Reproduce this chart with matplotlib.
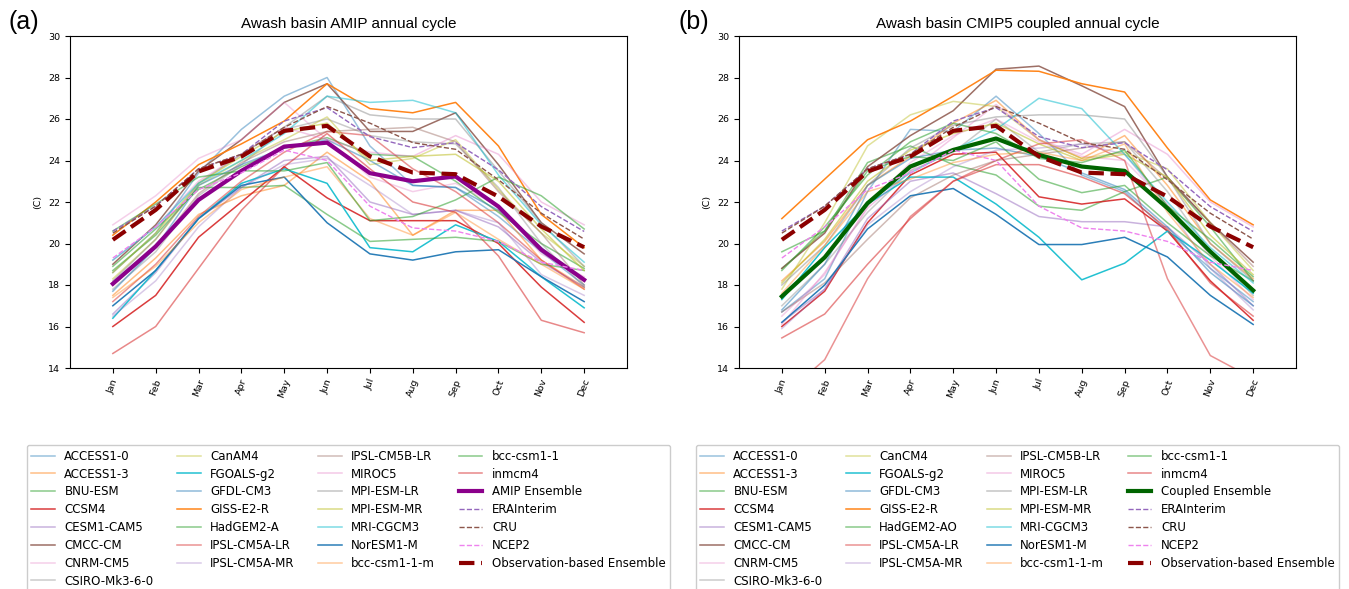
import matplotlib.pyplot as plt

months = ["Jan", "Feb", "Mar", "Apr", "May", "Jun", "Jul", "Aug", "Sep", "Oct", "Nov", "Dec"]

amip_names = ["ACCESS1-0", "ACCESS1-3", "BNU-ESM", "CCSM4", "CESM1-CAM5", "CMCC-CM", "CNRM-CM5",
              "CSIRO-Mk3-6-0", "CanAM4", "FGOALS-g2", "GFDL-CM3", "GISS-E2-R", "HadGEM2-A",
              "IPSL-CM5A-LR", "IPSL-CM5A-MR", "IPSL-CM5B-LR", "MIROC5", "MPI-ESM-LR", "MPI-ESM-MR",
              "MRI-CGCM3", "NorESM1-M", "bcc-csm1-1-m", "bcc-csm1-1", "inmcm4"]
cmip_names = ["ACCESS1-0", "ACCESS1-3", "BNU-ESM", "CCSM4", "CESM1-CAM5", "CMCC-CM", "CNRM-CM5",
              "CSIRO-Mk3-6-0", "CanCM4", "FGOALS-g2", "GFDL-CM3", "GISS-E2-R", "HadGEM2-AO",
              "IPSL-CM5A-LR", "IPSL-CM5A-MR", "IPSL-CM5B-LR", "MIROC5", "MPI-ESM-LR", "MPI-ESM-MR",
              "MRI-CGCM3", "NorESM1-M", "bcc-csm1-1-m", "bcc-csm1-1", "inmcm4"]

amip_access10 = [18.6, 20.5, 23.4, 25.5, 27.1, 28.0, 24.7, 22.8, 22.7, 21.3, 19.6, 18.0]
amip_access13 = [17.5, 19.3, 21.4, 22.3, 22.8, 24.4, 23.0, 20.4, 21.6, 21.6, 19.2, 17.9]
amip_bnu = [18.9, 20.7, 22.6, 23.7, 24.6, 25.1, 24.3, 24.2, 23.0, 21.5, 20.0, 18.8]
amip_ccsm4 = [16.0, 17.5, 20.3, 22.0, 23.7, 22.2, 21.1, 21.1, 21.1, 20.0, 17.9, 16.2]
amip_cesm = [16.6, 18.6, 21.2, 22.7, 24.0, 24.2, 22.0, 21.4, 21.6, 20.8, 19.1, 17.9]
amip_cmcc = [19.0, 20.9, 23.5, 25.0, 26.8, 27.7, 25.4, 25.4, 26.3, 23.8, 21.0, 19.5]
amip_cnrm = [20.9, 22.3, 24.1, 25.0, 26.8, 25.0, 23.2, 22.5, 22.9, 21.8, 19.5, 18.4]
amip_csiro = [17.8, 19.6, 22.3, 23.8, 25.5, 26.0, 25.2, 24.9, 24.8, 22.7, 20.0, 17.9]
amip_canam4 = [18.3, 20.2, 22.8, 24.0, 25.0, 26.1, 23.8, 24.1, 25.0, 22.6, 20.5, 18.9]
amip_fgoals = [16.4, 18.7, 21.2, 22.9, 23.6, 22.9, 19.8, 19.6, 20.9, 20.1, 18.4, 16.9]
amip_gfdl = [17.7, 19.8, 22.8, 23.8, 24.6, 25.0, 24.0, 22.8, 22.7, 21.6, 19.8, 18.2]
amip_giss = [20.4, 22.0, 23.8, 24.8, 25.9, 27.7, 26.5, 26.3, 26.8, 24.7, 21.4, 19.8]
amip_hadgem = [18.7, 20.4, 22.7, 22.7, 22.8, 21.4, 20.1, 20.2, 20.3, 20.1, 19.0, 18.7]
amip_ipsl_alr = [17.2, 19.0, 21.3, 23.0, 24.4, 25.4, 25.2, 23.6, 22.5, 21.0, 19.2, 17.8]
amip_ipsl_amr = [16.5, 18.2, 20.8, 22.7, 23.8, 24.1, 22.8, 21.4, 21.6, 21.0, 18.5, 17.5]
amip_ipsl_blr = [18.0, 19.8, 22.4, 23.9, 24.9, 25.4, 25.5, 25.6, 24.9, 22.5, 20.5, 18.0]
amip_miroc5 = [19.2, 20.8, 23.0, 24.3, 25.6, 25.0, 24.4, 24.2, 25.2, 24.3, 22.0, 20.9]
amip_mpi_lr = [18.2, 20.2, 22.9, 24.3, 25.6, 27.1, 26.2, 26.0, 26.0, 23.5, 21.0, 18.9]
amip_mpi_mr = [18.6, 20.5, 22.9, 24.2, 25.4, 25.8, 24.0, 24.2, 24.3, 23.0, 20.7, 18.7]
amip_mri = [19.2, 20.8, 22.9, 24.0, 25.3, 27.1, 26.8, 26.9, 26.3, 23.3, 20.9, 19.1]
amip_noresm = [17.0, 18.7, 21.2, 22.8, 23.2, 21.0, 19.5, 19.2, 19.6, 19.7, 18.4, 17.2]
amip_bcc_m = [17.4, 18.9, 21.0, 22.6, 23.2, 23.7, 21.2, 20.4, 21.5, 20.2, 19.0, 17.8]
amip_bcc = [20.6, 21.9, 23.2, 23.5, 23.5, 23.9, 21.1, 21.3, 22.1, 23.2, 22.3, 20.7]
amip_inmcm4 = [14.7, 16.0, 18.8, 21.6, 23.7, 25.3, 23.6, 22.0, 21.5, 19.4, 16.3, 15.7]
amip_ensemble = [18.06, 19.86, 22.1, 23.5, 24.67, 24.86, 23.39, 23.0, 23.23, 21.78, 19.7, 18.25]

cmip_access10 = [16.7, 18.3, 22.5, 25.5, 25.4, 27.1, 25.3, 23.3, 22.5, 20.6, 18.8, 17.2]
cmip_access13 = [18.2, 20.1, 22.8, 24.2, 25.8, 26.9, 25.0, 24.1, 25.2, 22.8, 20.0, 18.3]
cmip_bnu = [18.8, 20.6, 23.9, 24.7, 23.8, 23.3, 21.8, 21.6, 22.5, 23.2, 20.8, 18.2]
cmip_ccsm4 = [16.0, 17.7, 21.0, 23.3, 24.3, 24.4, 22.25, 21.9, 22.15, 20.6, 18.2, 16.3]
cmip_cesm = [16.2, 17.8, 21.2, 23.0, 23.4, 22.4, 21.3, 21.05, 21.05, 20.8, 19.0, 17.0]
cmip_cmcc = [18.8, 20.5, 23.7, 25.2, 26.4, 28.4, 28.55, 27.6, 26.6, 23.2, 21.0, 19.1]
cmip_cnrm = [16.5, 18.5, 21.8, 23.9, 25.2, 26.0, 24.9, 24.2, 24.0, 21.9, 19.4, 17.3]
cmip_csiro = [17.0, 19.0, 21.5, 23.5, 24.4, 26.0, 24.4, 24.8, 24.9, 22.5, 19.6, 17.5]
cmip_cancm4 = [17.8, 21.0, 24.7, 26.2, 26.85, 26.6, 25.0, 24.1, 24.4, 23.6, 21.0, 18.7]
cmip_fgoals = [17.3, 19.8, 21.9, 23.2, 23.2, 21.9, 20.3, 18.25, 19.05, 20.6, 19.2, 17.6]
cmip_gfdl = [16.8, 19.0, 22.8, 24.1, 24.5, 24.6, 24.2, 23.4, 22.6, 20.8, 18.6, 17.0]
cmip_giss = [21.2, 23.1, 25.0, 25.9, 27.1, 28.35, 28.3, 27.7, 27.3, 24.6, 22.1, 20.9]
cmip_hadgem = [19.6, 20.6, 23.5, 24.2, 24.0, 24.9, 23.1, 22.45, 22.8, 21.0, 19.4, 18.2]
cmip_ipsl_alr = [12.6, 14.4, 18.3, 21.3, 23.0, 24.0, 24.8, 25.0, 24.0, 18.3, 14.6, 13.5]
cmip_ipsl_amr = [15.9, 17.8, 20.9, 22.5, 23.7, 24.5, 24.6, 24.8, 24.3, 21.8, 18.8, 16.8]
cmip_ipsl_blr = [16.7, 18.1, 20.2, 22.2, 23.3, 24.0, 24.3, 24.6, 24.9, 23.1, 21.0, 18.9]
cmip_miroc5 = [16.1, 18.6, 21.7, 23.5, 25.1, 26.7, 25.0, 24.3, 25.5, 24.3, 22.0, 20.8]
cmip_mpi_lr = [18.0, 19.9, 22.8, 24.6, 25.7, 26.1, 26.2, 26.2, 26.0, 23.2, 20.0, 18.2]
cmip_mpi_mr = [18.1, 20.2, 23.0, 24.5, 25.3, 25.8, 24.8, 24.0, 24.3, 23.2, 20.4, 18.5]
cmip_mri = [17.5, 19.3, 22.0, 23.4, 24.5, 25.5, 27.0, 26.5, 24.3, 22.0, 19.8, 18.1]
cmip_noresm = [16.2, 18.0, 20.7, 22.3, 22.65, 21.4, 19.95, 19.95, 20.3, 19.35, 17.5, 16.1]
cmip_bcc_m = [17.6, 19.9, 22.5, 23.1, 23.9, 24.3, 24.4, 24.0, 24.8, 21.5, 19.0, 17.4]
cmip_bcc = [18.7, 20.8, 23.3, 24.9, 25.8, 25.3, 24.1, 23.9, 24.5, 21.8, 20.2, 18.4]
cmip_inmcm4 = [15.45, 16.6, 19.0, 21.2, 23.0, 23.8, 23.8, 23.2, 22.4, 20.7, 18.1, 16.5]
cmip_ensemble = [17.45, 19.33, 21.94, 23.71, 24.51, 25.06, 24.27, 23.71, 23.5, 21.7, 19.61, 17.74]

erainterim = [20.6, 21.8, 23.6, 24.3, 25.9, 26.55, 25.15, 24.62, 24.86, 23.55, 21.78, 20.58]
cru = [20.5, 21.8, 23.6, 24.3, 25.6, 26.6, 25.8, 24.86, 24.54, 23.07, 21.46, 20.21]
ncep2 = [19.3, 20.8, 22.6, 23.4, 24.5, 24.0, 21.8, 20.75, 20.6, 20.1, 19.1, 18.7]
obs_ensemble = [20.18, 21.62, 23.47, 24.19, 25.43, 25.67, 24.2, 23.42, 23.34, 22.26, 20.82, 19.82]

amip_models = [amip_access10, amip_access13, amip_bnu, amip_ccsm4, amip_cesm, amip_cmcc, amip_cnrm,
               amip_csiro, amip_canam4, amip_fgoals, amip_gfdl, amip_giss, amip_hadgem, amip_ipsl_alr,
               amip_ipsl_amr, amip_ipsl_blr, amip_miroc5, amip_mpi_lr, amip_mpi_mr, amip_mri,
               amip_noresm, amip_bcc_m, amip_bcc, amip_inmcm4]
cmip_models = [cmip_access10, cmip_access13, cmip_bnu, cmip_ccsm4, cmip_cesm, cmip_cmcc, cmip_cnrm,
               cmip_csiro, cmip_cancm4, cmip_fgoals, cmip_gfdl, cmip_giss, cmip_hadgem, cmip_ipsl_alr,
               cmip_ipsl_amr, cmip_ipsl_blr, cmip_miroc5, cmip_mpi_lr, cmip_mpi_mr, cmip_mri,
               cmip_noresm, cmip_bcc_m, cmip_bcc, cmip_inmcm4]

# tab10 cycle, each model line faded differently
tab10 = plt.rcParams['axes.prop_cycle'].by_key()['color']
alphas = [0.45, 0.5, 0.55, 0.9, 0.5, 0.85, 0.35, 0.4, 0.45, 0.95, 0.5, 0.95,
          0.55, 0.5, 0.35, 0.4, 0.4, 0.45, 0.55, 0.55, 0.95, 0.4, 0.55, 0.55]


def draw_panel(ax, names, models, ens, ens_label, ens_color, title):
    x = list(range(len(months)))
    for i, (name, vals) in enumerate(zip(names, models)):
        ax.plot(x, vals, color=tab10[i % 10], alpha=alphas[i], lw=1.1, label=name)
    ax.plot(x, ens, color=ens_color, lw=3, label=ens_label)
    ax.plot(x, erainterim, color='tab:purple', ls='--', lw=1.0, label='ERAInterim')
    ax.plot(x, cru, color='tab:brown', ls='--', lw=1.0, label='CRU')
    ax.plot(x, ncep2, color='violet', ls='--', lw=1.0, label='NCEP2')
    ax.plot(x, obs_ensemble, color='darkred', ls='--', lw=3, label='Observation-based Ensemble')
    ax.set_xlim(-1, 12)
    ax.set_ylim(14, 30)
    ax.set_xticks(x)
    ax.set_xticklabels(months, rotation=70, fontsize=6.8)
    ax.tick_params(axis='y', labelsize=6.8)
    ax.set_ylabel('(C)', fontsize=6.8)
    ax.set_title(title, fontsize=11, family='Liberation Sans')
    ax.legend(loc='upper center', bbox_to_anchor=(0.5, -0.214), ncol=4, fontsize=8.5,
              labelspacing=0.41, framealpha=1)


fig = plt.figure(figsize=(13.49, 5.89), dpi=100)
ax1 = fig.add_axes([70 / 1349, 221 / 589, 557 / 1349, 332 / 589])
ax2 = fig.add_axes([739 / 1349, 221 / 589, 557 / 1349, 332 / 589])

draw_panel(ax1, amip_names, amip_models, amip_ensemble, 'AMIP Ensemble', '#8b008b',
           'Awash basin AMIP annual cycle')
draw_panel(ax2, cmip_names, cmip_models, cmip_ensemble, 'Coupled Ensemble', 'darkgreen',
           'Awash basin CMIP5 coupled annual cycle')

fig.text(8 / 1349, 1 - 22 / 589, '(a)', fontsize=18, family='Liberation Sans', va='center')
fig.text(678 / 1349, 1 - 22 / 589, '(b)', fontsize=18, family='Liberation Sans', va='center')

fig.savefig('out.png', dpi=100)
